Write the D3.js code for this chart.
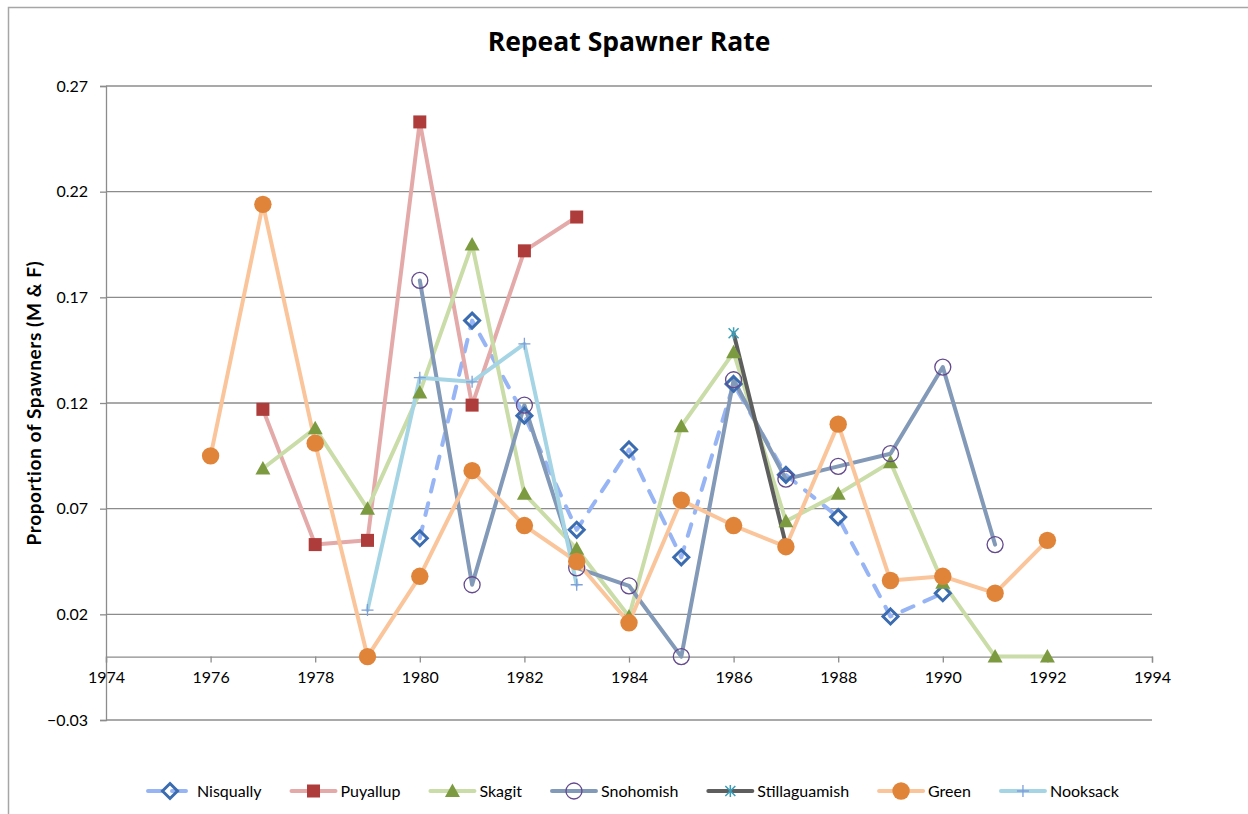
<!DOCTYPE html>
<html>
<head>
<meta charset="utf-8">
<script src="https://cdn.jsdelivr.net/npm/d3@7"></script>
<style>
  html, body { margin: 0; padding: 0; background: #ffffff; }
  svg { display: block; }
  text { font-family: Lato, "Open Sans", sans-serif; fill: #000; }
</style>
</head>
<body>
<svg id="chart" width="1248" height="814"></svg>
<script>
// Return years of the first spawning, and per-river repeat spawner proportions
const years = [1976, 1977, 1978, 1979, 1980, 1981, 1982, 1983, 1984, 1985, 1986, 1987, 1988, 1989, 1990, 1991, 1992];

const nisqually     = [null, null, null, null, 0.056, 0.159, 0.114, 0.060, 0.098, 0.047, 0.129, 0.086, 0.066, 0.019, 0.030, null, null];
const puyallup      = [null, 0.117, 0.053, 0.055, 0.253, 0.119, 0.192, 0.208, null, null, null, null, null, null, null, null, null];
const skagit        = [null, 0.089, 0.108, 0.070, 0.125, 0.195, 0.077, 0.051, 0.019, 0.109, 0.144, 0.064, 0.077, 0.092, 0.035, 0, 0];
const snohomish     = [null, null, null, null, 0.178, 0.034, 0.119, 0.042, 0.0335, 0, 0.131, 0.084, 0.090, 0.096, 0.137, 0.053, null];
const stillaguamish = [null, null, null, null, null, null, null, null, null, null, 0.153, 0.053, null, null, null, null, null];
const green         = [0.095, 0.214, 0.101, 0, 0.038, 0.088, 0.062, 0.045, 0.016, 0.074, 0.062, 0.052, 0.110, 0.036, 0.038, 0.030, 0.055];
const nooksack      = [null, null, null, 0.022, 0.132, 0.130, 0.148, 0.034, null, null, null, null, null, null, null, null, null];

const seriesNames = ["Nisqually", "Puyallup", "Skagit", "Snohomish", "Stillaguamish", "Green", "Nooksack"];
const seriesValues = [nisqually, puyallup, skagit, snohomish, stillaguamish, green, nooksack];

const xTicks = [1974, 1976, 1978, 1980, 1982, 1984, 1986, 1988, 1990, 1992, 1994];
const yTicks = [-0.03, 0.02, 0.07, 0.12, 0.17, 0.22, 0.27];

// Visual style for each series: line colour, dash, marker shape and colours
const styles = {
  Nisqually:     { line: "#97b4f5", dash: "12,12", marker: "diamond",  fill: "none",    stroke: "#3b6caf", sw: 3 },
  Puyallup:      { line: "#e3aaa9", dash: null,    marker: "square",   fill: "#ad3c3a", stroke: "none",    sw: 0 },
  Skagit:        { line: "#cadca7", dash: null,    marker: "triangle", fill: "#7c9b40", stroke: "none",    sw: 0 },
  Snohomish:     { line: "#8399b8", dash: null,    marker: "circle",   fill: "none",    stroke: "#634a8c", sw: 1.3 },
  Stillaguamish: { line: "#5e5e5e", dash: null,    marker: "star",     fill: "none",    stroke: "#3a9db8", sw: 1.3 },
  Green:         { line: "#fac59b", dash: null,    marker: "dot",      fill: "#e0843a", stroke: "none",    sw: 0 },
  Nooksack:      { line: "#a5d5e4", dash: null,    marker: "plus",     fill: "none",    stroke: "#7f9fd9", sw: 1.3 }
};

const svg = d3.select("#chart");
const W = 1248, H = 814;
const plot = { left: 106, right: 1152, top: 86, bottom: 720 };

const x = d3.scaleLinear().domain([1974, 1994]).range([plot.left, plot.right]);
const y = d3.scaleLinear().domain([-0.03, 0.27]).range([plot.bottom, plot.top]);

// Outer chart frame
svg.append("path")
  .attr("d", `M8.5,${H} V7.5 H${W}`)
  .attr("fill", "none").attr("stroke", "#a6a6a6").attr("stroke-width", 1.5);

// Title
svg.append("text")
  .attr("x", 629).attr("y", 51)
  .attr("text-anchor", "middle")
  .style("font-family", "'Open Sans', Lato, sans-serif")
  .style("font-weight", "bold")
  .style("font-size", "26.5px")
  .text("Repeat Spawner Rate");

// Horizontal gridlines + y axis with ticks on the left
const yAxis = d3.axisLeft(y).tickValues(yTicks).tickSize(6)
  .tickFormat(d => d3.format(".2f")(d).replace(/^(-?)0\./, "$10."));
const gy = svg.append("g").attr("transform", `translate(${plot.left},0)`).call(yAxis);
gy.select(".domain").attr("stroke", "#8c8c8c").attr("stroke-width", 1.3);
gy.selectAll(".tick line").attr("stroke", "#8c8c8c").attr("stroke-width", 1.3);
gy.selectAll(".tick text")
  .attr("x", -18)
  .style("font-family", "Lato, sans-serif")
  .style("font-size", "16px")
  .attr("fill", "#000");

svg.append("g").selectAll("line").data(yTicks).join("line")
  .attr("x1", plot.left).attr("x2", plot.right)
  .attr("y1", d => y(d)).attr("y2", d => y(d))
  .attr("stroke", "#8c8c8c").attr("stroke-width", 1.3);

// Y axis title
svg.append("text")
  .attr("transform", `translate(41,${(plot.top + plot.bottom) / 2}) rotate(-90)`)
  .attr("text-anchor", "middle")
  .style("font-weight", "bold")
  .style("font-size", "19px")
  .style("letter-spacing", "0.6px")
  .text("Proportion of Spawners (M & F)");

// X axis crossing at zero
const xAxis = d3.axisBottom(x).tickValues(xTicks).tickSize(6).tickFormat(d3.format("d"));
const gx = svg.append("g").attr("transform", `translate(0,${y(0)})`).call(xAxis);
gx.select(".domain").attr("stroke", "#8c8c8c").attr("stroke-width", 1.3);
gx.selectAll(".tick line").attr("stroke", "#8c8c8c").attr("stroke-width", 1.3);
gx.selectAll(".tick text")
  .attr("y", 15)
  .style("font-family", "Lato, sans-serif")
  .style("font-size", "16px")
  .attr("fill", "#000");

// Marker drawing helper
function drawMarker(sel, shape, st) {
  switch (shape) {
    case "diamond":
      sel.append("path").attr("d", "M0,-7.5 L7.5,0 L0,7.5 L-7.5,0 Z")
        .attr("fill", "none").attr("stroke", st.stroke).attr("stroke-width", st.sw).attr("stroke-linejoin", "miter");
      break;
    case "square":
      sel.append("rect").attr("x", -6.5).attr("y", -6.5).attr("width", 13).attr("height", 13).attr("fill", st.fill);
      break;
    case "triangle":
      sel.append("path").attr("d", "M0,-7.5 L7.5,6 L-7.5,6 Z").attr("fill", st.fill);
      break;
    case "circle":
      sel.append("ellipse").attr("rx", 8).attr("ry", 8)
        .attr("fill", "none").attr("stroke", st.stroke).attr("stroke-width", st.sw);
      break;
    case "dot":
      sel.append("circle").attr("r", 8.7).attr("fill", st.fill);
      break;
    case "star":
      sel.append("path").attr("d", "M-5,-5 L5,5 M-5,5 L5,-5 M0,-6 V6")
        .attr("stroke", st.stroke).attr("stroke-width", 1.5).attr("fill", "none");
      break;
    case "plus":
      sel.append("path").attr("d", "M-6,0 H6 M0,-6 V6")
        .attr("stroke", st.stroke).attr("stroke-width", 1.3).attr("fill", "none");
      break;
  }
}

const series = seriesNames.map((name, i) => ({
  name,
  style: styles[name],
  points: years.map((yr, j) => ({ year: yr, value: seriesValues[i][j] })).filter(p => p.value !== null)
}));

const line = d3.line().x(d => x(d.year)).y(d => y(d.value));

// Lines first, then markers on top
const linesG = svg.append("g");
series.forEach(s => {
  linesG.append("path")
    .attr("d", line(s.points))
    .attr("fill", "none")
    .attr("stroke", s.style.line)
    .attr("stroke-width", 4)
    .attr("stroke-linejoin", "round")
    .attr("stroke-linecap", "round")
    .attr("stroke-dasharray", s.style.dash);
});

const markersG = svg.append("g");
series.forEach(s => {
  s.points.forEach(p => {
    const g = markersG.append("g").attr("transform", `translate(${x(p.year)},${y(p.value)})`);
    drawMarker(g, s.style.marker, s.style);
  });
});

// Legend along the bottom
const legendY = 791;
const legend = svg.append("g");
let cursor = 146;
series.forEach(s => {
  const item = legend.append("g").attr("transform", `translate(${cursor},${legendY})`);
  item.append("line")
    .attr("x1", 2).attr("x2", 46).attr("y1", 0).attr("y2", 0)
    .attr("stroke", s.style.line).attr("stroke-width", 4).attr("stroke-linecap", "round")
    .attr("stroke-dasharray", s.style.dash ? "14,10" : null);
  const m = item.append("g").attr("transform", "translate(24,0)");
  drawMarker(m, s.style.marker, s.style);
  const t = item.append("text")
    .attr("x", 51).attr("y", 0).attr("dy", "0.35em")
    .style("font-size", "16px")
    .text(s.name);
  cursor += 51 + t.node().getComputedTextLength() + 28;
});
</script>
</body>
</html>
